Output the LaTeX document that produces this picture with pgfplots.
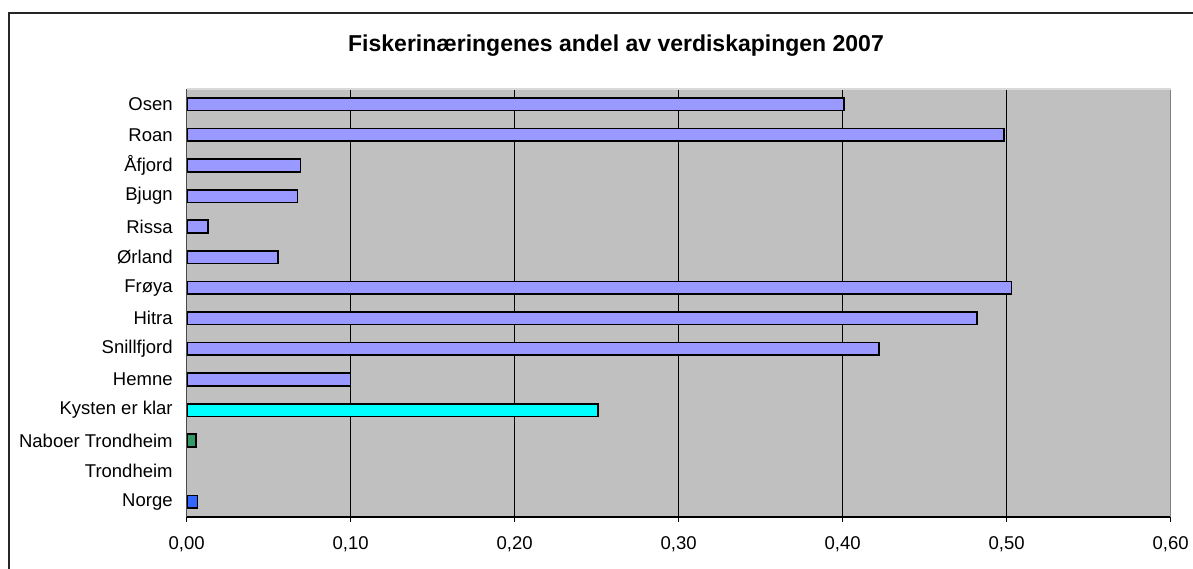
\documentclass[border=0pt]{standalone}
\usepackage{fontspec}
\setmainfont{Liberation Sans}
\usepackage{pgfplots}
\pgfplotsset{compat=1.18}
\definecolor{barpurple}{HTML}{9999FF}
\definecolor{barcyan}{HTML}{00FFFF}
\definecolor{bargreen}{HTML}{339966}
\definecolor{barblue}{HTML}{3366FF}
\definecolor{plotgray}{HTML}{C0C0C0}
\begin{document}
\begin{tikzpicture}
\useasboundingbox (0,0) rectangle (596.5pt,-284pt);
\draw[line width=0.9pt,black!85] (4.4pt,-290pt) -- (4.4pt,-6.4pt) -- (600pt,-6.4pt);
\node[font=\fontsize{11.5pt}{13pt}\selectfont\bfseries] at (308pt,-22.7pt) {Fiskerinæringenes andel av verdiskapingen 2007};
\begin{axis}[
  at={(93.35pt,-258.5pt)}, anchor=south west,
  width=492pt, height=214pt, scale only axis,
  xmin=0, xmax=0.6, ymin=-0.5, ymax=13.5,
  axis background/.style={fill=plotgray},
  axis line style={draw=none},
  xtick={0,0.1,...,0.6},
  xtick pos=lower, ytick pos=left,
  xmajorgrids, major grid style={black, line width=0.5pt},
  ytick={0,...,13},
  yticklabels={Norge,Trondheim,Naboer Trondheim,Kysten er klar,Hemne,Snillfjord,Hitra,Frøya,Ørland,Rissa,Bjugn,Åfjord,Roan,Osen},
  y tick style={draw=none},
  extra y ticks={-0.5,0.5,...,13.5},
  extra y tick labels={},
  extra y tick style={major tick length=2.5pt, tick style={draw=black, line width=0.5pt}, grid=none},
  tick align=outside,
  x tick style={black, line width=0.5pt},
  major tick length=2.5pt,
  ticklabel style={font=\fontsize{9.25pt}{11pt}\selectfont},
  xticklabel style={yshift=-4pt},
  yticklabel style={xshift=-1pt},
  /pgf/number format/.cd, fixed, fixed zerofill, precision=2, use comma, assume math mode=true,
  /pgfplots/.cd,
  clip=false,
]
\addplot[xbar, bar width=6.35pt, bar shift=0pt, fill=barpurple, draw=black, line width=0.85pt]
  coordinates {(0.401,13) (0.4985,12) (0.0693,11) (0.0675,10) (0.0132,9) (0.0555,8) (0.503,7) (0.4817,6) (0.422,5) (0.0998,4)};
\addplot[xbar, bar width=6.35pt, bar shift=0pt, fill=barcyan, draw=black, line width=0.85pt]
  coordinates {(0.251,3)};
\addplot[xbar, bar width=6.35pt, bar shift=0pt, fill=bargreen, draw=black, line width=0.85pt]
  coordinates {(0.0057,2)};
\addplot[xbar, bar width=6.35pt, bar shift=0pt, fill=barblue, draw=black, line width=0.85pt]
  coordinates {(0.0065,0)};
\draw[black!70, line width=0.7pt] (axis cs:0,-0.5) -- (axis cs:0,13.5);
\draw[black, line width=0.6pt] (axis cs:0,-0.5) -- (axis cs:0.6,-0.5);
\draw[black!50, line width=0.5pt] (axis cs:0.6,-0.5) -- (axis cs:0.6,13.5);
\draw[black!15, line width=0.6pt] (axis cs:0,13.5) -- (axis cs:0.6,13.5);
\end{axis}
\end{tikzpicture}
\end{document}
